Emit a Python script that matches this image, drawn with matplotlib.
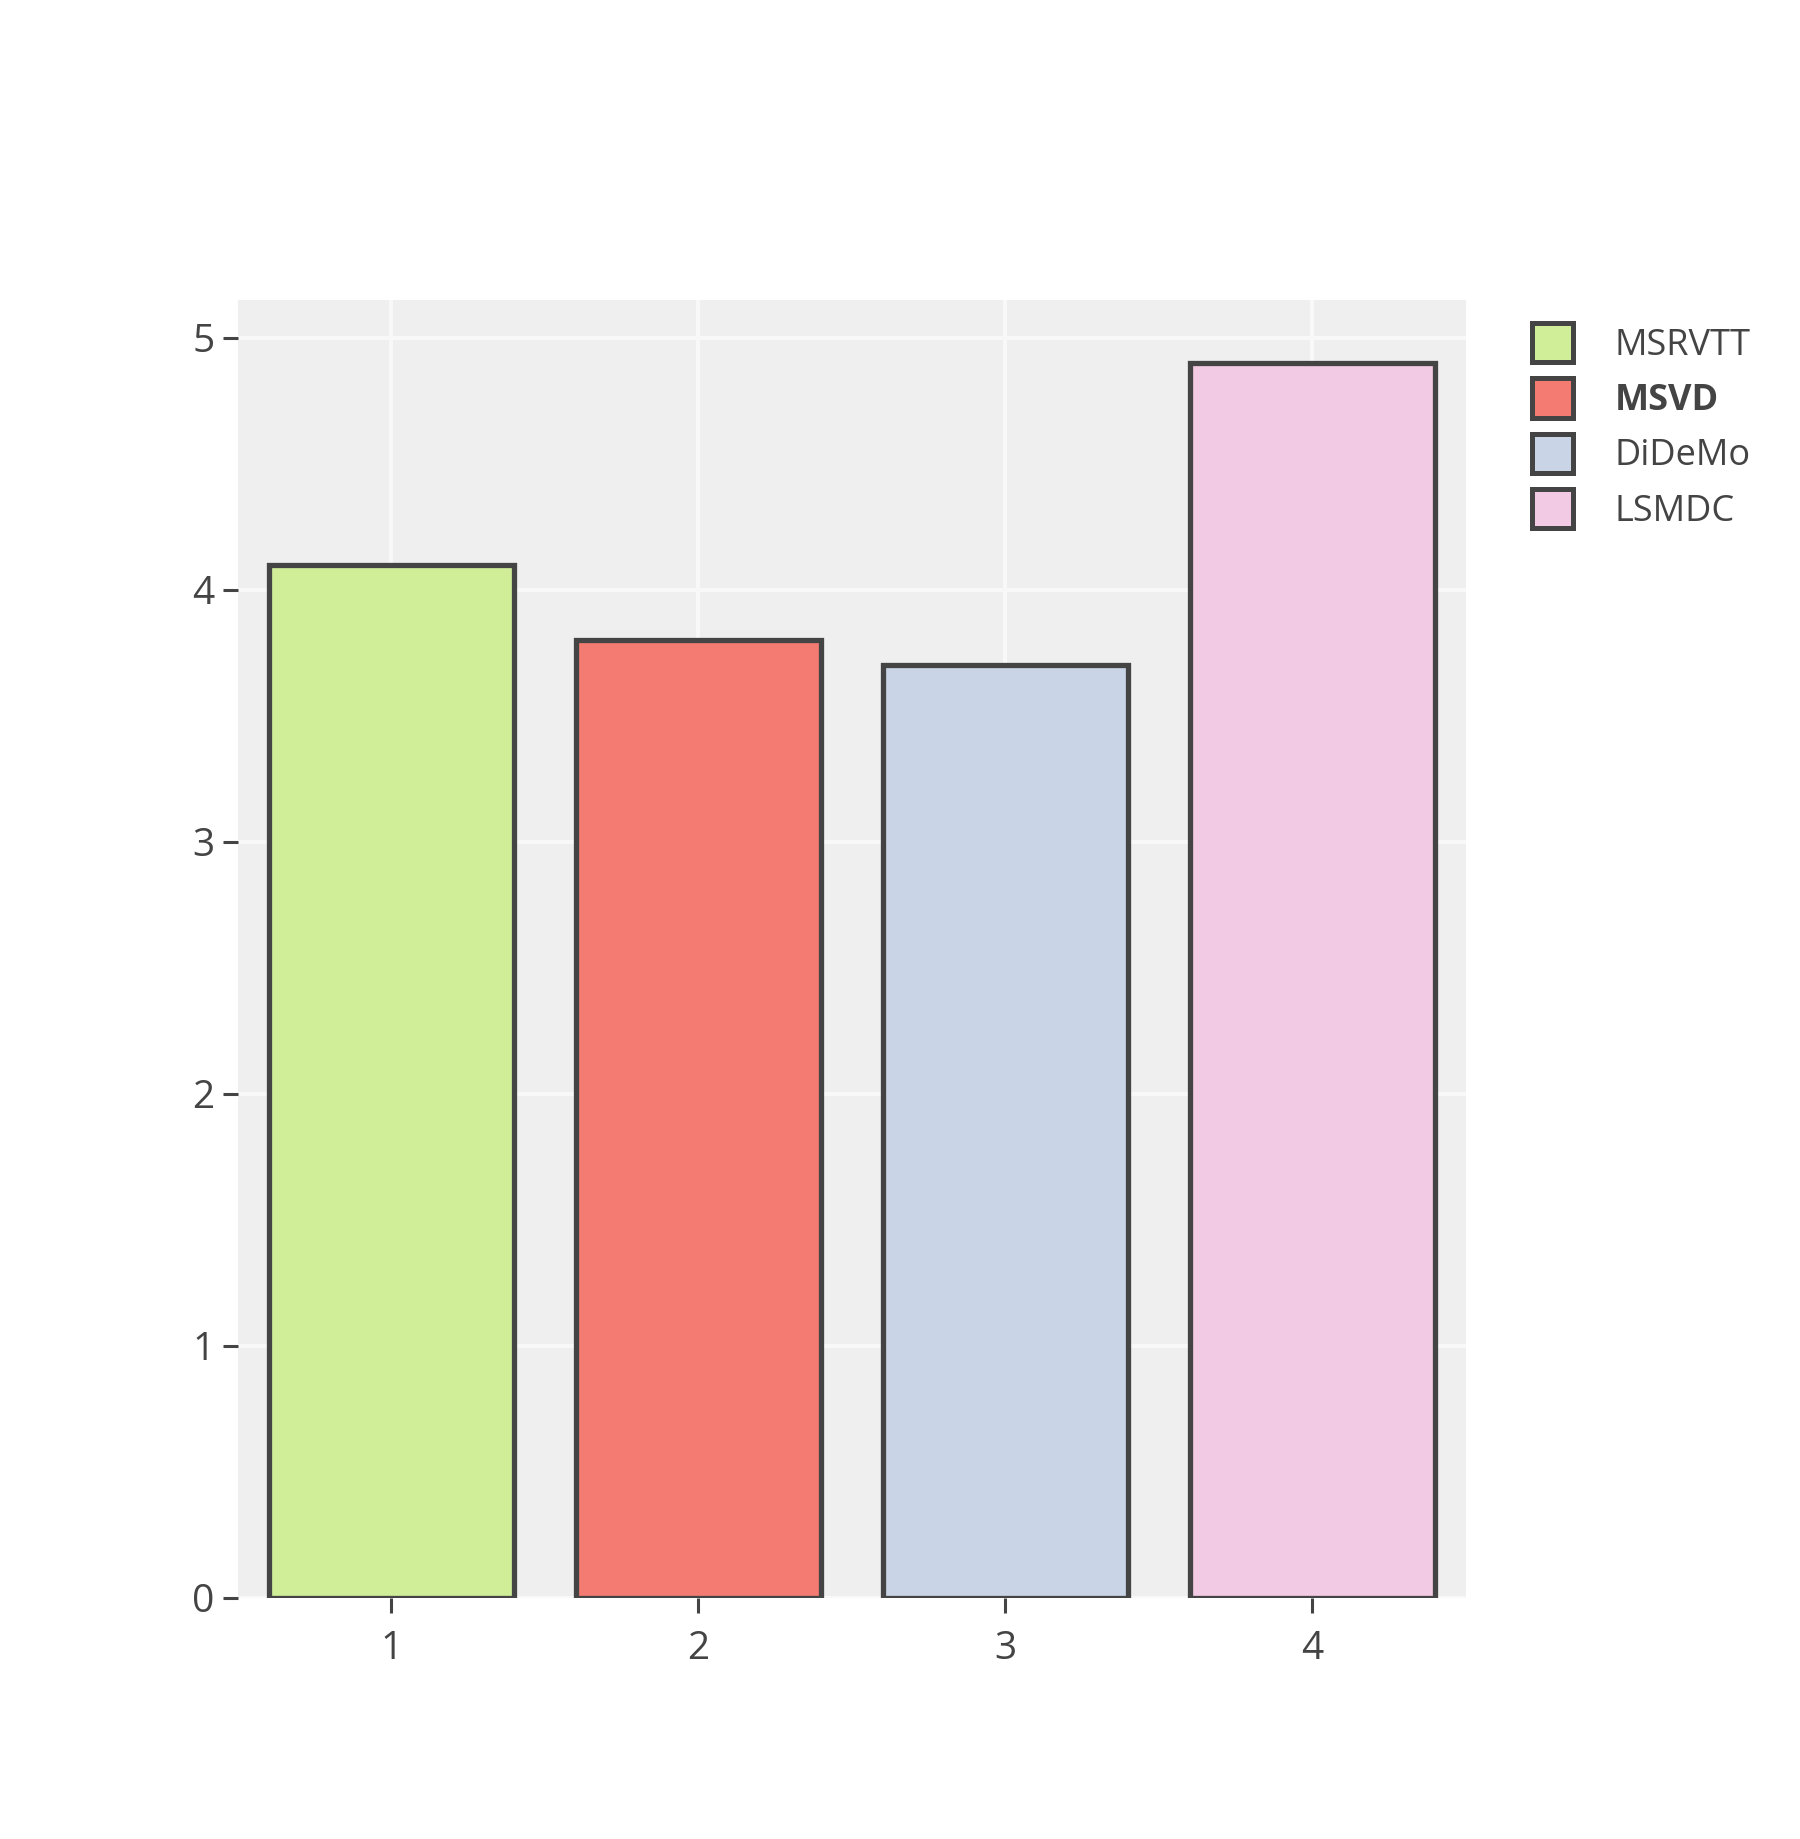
import matplotlib
matplotlib.use("Agg")
import matplotlib.pyplot as plt
from matplotlib.patches import Patch

categories = [1, 2, 3, 4]
labels = ["MSRVTT", "MSVD", "DiDeMo", "LSMDC"]
values = [4.1, 3.8, 3.7, 4.9]
colors = ["#d0ed98", "#f47b72", "#c9d5e6", "#f3cae3"]
yticks = [0, 1, 2, 3, 4, 5]

plt.rcParams['font.family'] = ['Open Sans', 'DejaVu Sans']
txt = "#444444"

fig = plt.figure(figsize=(18, 18.39), dpi=100)
ax = fig.add_axes([0.1322, 0.1311, 0.6822, 0.7058])
ax.set_facecolor("#efefef")
ax.bar(categories, values, width=0.8, color=colors, edgecolor="#444444",
       linewidth=3.8, zorder=3)
ax.set_xlim(0.5, 4.5)
ax.set_ylim(0, 5.15)
ax.set_xticks(categories)
ax.set_yticks(yticks)
ax.grid(True, color="#f8f8f8", linewidth=3, zorder=0)
ax.set_axisbelow(True)
for s in ax.spines.values():
    s.set_visible(False)
ax.tick_params(axis='both', direction='out', length=11, width=2.2, color=txt,
               labelsize=28, labelcolor=txt)
ax.tick_params(axis='x', pad=12)
ax.tick_params(axis='y', pad=6)

handles = [Patch(facecolor=c, edgecolor="#444444", linewidth=3.6) for c in colors]
leg = fig.legend(handles, labels, loc='upper left', bbox_to_anchor=(0.833, 0.842),
                 frameon=False, fontsize=26, handlelength=1.15, handleheight=1.3,
                 handletextpad=1.15, labelspacing=0.4, labelcolor=txt)
for t in leg.get_texts():
    if t.get_text() == "MSVD":
        t.set_fontweight('bold')

fig.savefig("out.png", dpi=100, facecolor="white")
